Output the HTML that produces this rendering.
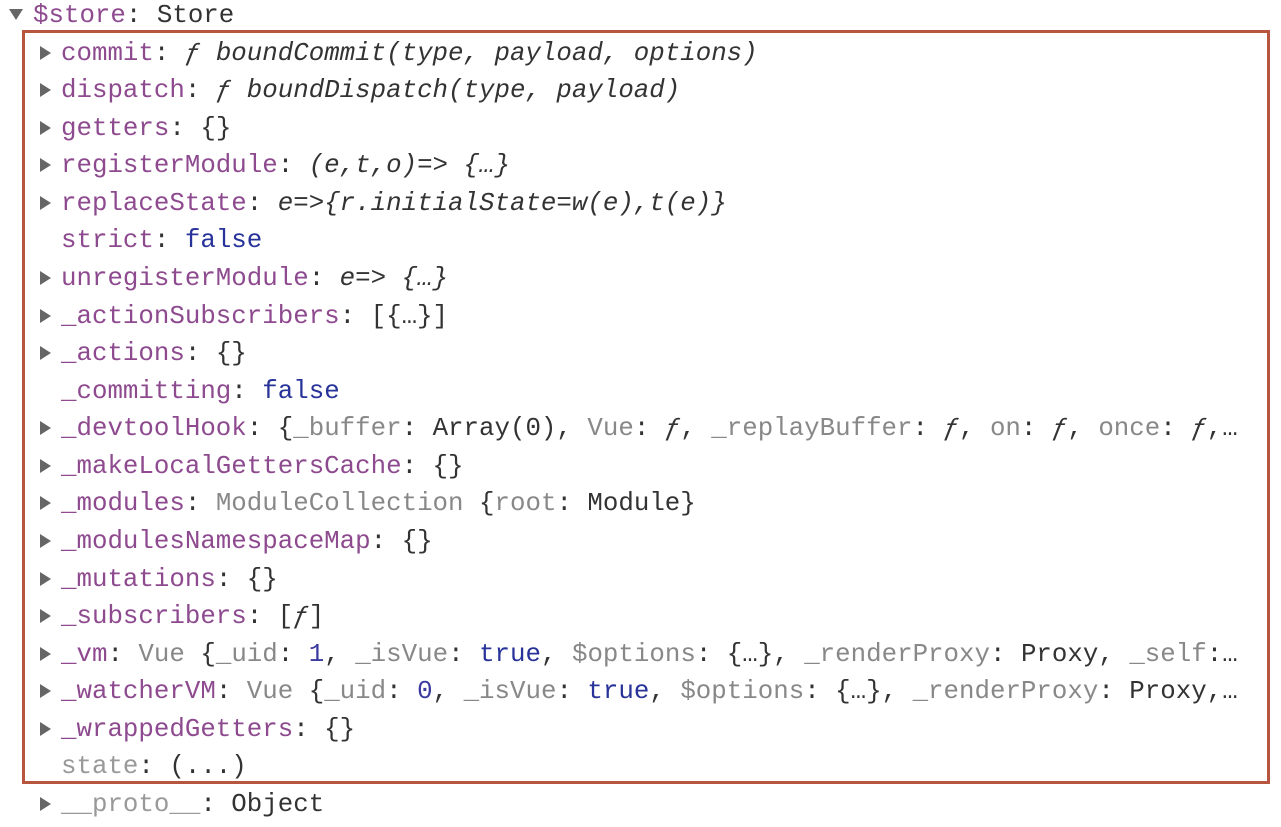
<!DOCTYPE html>
<html><head><meta charset="utf-8"><style>
html,body{margin:0;padding:0;background:#fff;width:1281px;height:827px;overflow:hidden}
.r{position:absolute;left:61px;height:37.57px;line-height:37.57px;font-family:"Liberation Mono",monospace;font-size:25.8px;color:#333;white-space:pre;margin-top:2px}
.k{color:#8e4a8f}.g{color:#888}.i{font-style:italic}.b{color:#28339a}.n{color:#3a3aa0}.q{color:#999}
.t{position:absolute;width:0;height:0;border-top:7px solid transparent;border-bottom:7px solid transparent;border-left:11px solid #666}
.d{position:absolute;width:0;height:0;border-left:7px solid transparent;border-right:7px solid transparent;border-top:11px solid #666}
#box{position:absolute;left:22px;top:30px;width:1242px;height:748px;border:3px solid #b8553f}
</style></head><body>
<div id="box"></div>
<div class="d" style="left:9px;top:9px"></div>
<div class="r" style="left:33px;top:-5px"><span class="k">$store</span>: Store</div>
<div class="r" style="top:33px"><span class="k">commit</span>: <span class="i">ƒ boundCommit(type, payload, options)</span></div>
<div class="r" style="top:70px"><span class="k">dispatch</span>: <span class="i">ƒ boundDispatch(type, payload)</span></div>
<div class="r" style="top:108px"><span class="k">getters</span>: {}</div>
<div class="r" style="top:145px"><span class="k">registerModule</span>: <span class="i">(e,t,o)=&gt; {…}</span></div>
<div class="r" style="top:183px"><span class="k">replaceState</span>: <span class="i">e=&gt;{r.initialState=w(e),t(e)}</span></div>
<div class="r" style="top:220px"><span class="k">strict</span>: <span class="b">false</span></div>
<div class="r" style="top:258px"><span class="k">unregisterModule</span>: <span class="i">e=&gt; {…}</span></div>
<div class="r" style="top:296px"><span class="k">_actionSubscribers</span>: [{…}]</div>
<div class="r" style="top:333px"><span class="k">_actions</span>: {}</div>
<div class="r" style="top:371px"><span class="k">_committing</span>: <span class="b">false</span></div>
<div class="r" style="top:408px"><span class="k">_devtoolHook</span>: {<span class="g">_buffer</span>: Array(0), <span class="g">Vue</span>: <span class="i">ƒ</span>, <span class="g">_replayBuffer</span>: <span class="i">ƒ</span>, <span class="g">on</span>: <span class="i">ƒ</span>, <span class="g">once</span>: <span class="i">ƒ</span>,…</div>
<div class="r" style="top:446px"><span class="k">_makeLocalGettersCache</span>: {}</div>
<div class="r" style="top:483px"><span class="k">_modules</span>: <span class="g">ModuleCollection</span> {<span class="g">root</span>: Module}</div>
<div class="r" style="top:521px"><span class="k">_modulesNamespaceMap</span>: {}</div>
<div class="r" style="top:559px"><span class="k">_mutations</span>: {}</div>
<div class="r" style="top:596px"><span class="k">_subscribers</span>: [<span class="i">ƒ</span>]</div>
<div class="r" style="top:634px"><span class="k">_vm</span>: <span class="g">Vue</span> {<span class="g">_uid</span>: <span class="n">1</span>, <span class="g">_isVue</span>: <span class="b">true</span>, <span class="g">$options</span>: {…}, <span class="g">_renderProxy</span>: Proxy, <span class="g">_self</span>:…</div>
<div class="r" style="top:671px"><span class="k">_watcherVM</span>: <span class="g">Vue</span> {<span class="g">_uid</span>: <span class="n">0</span>, <span class="g">_isVue</span>: <span class="b">true</span>, <span class="g">$options</span>: {…}, <span class="g">_renderProxy</span>: Proxy,…</div>
<div class="r" style="top:709px"><span class="k">_wrappedGetters</span>: {}</div>
<div class="r" style="top:746px"><span class="q">state</span>: (...)</div>
<div class="r" style="top:784px"><span class="q">__proto__</span>: Object</div>
<script>
[52,89,127,164,202,277,315,352,427,465,502,540,578,615,653,690,728,803].forEach(function(y){var e=document.createElement('div');e.className='t';e.style.left='40px';e.style.top=(y-6)+'px';document.body.appendChild(e);});
</script>
</body></html>
